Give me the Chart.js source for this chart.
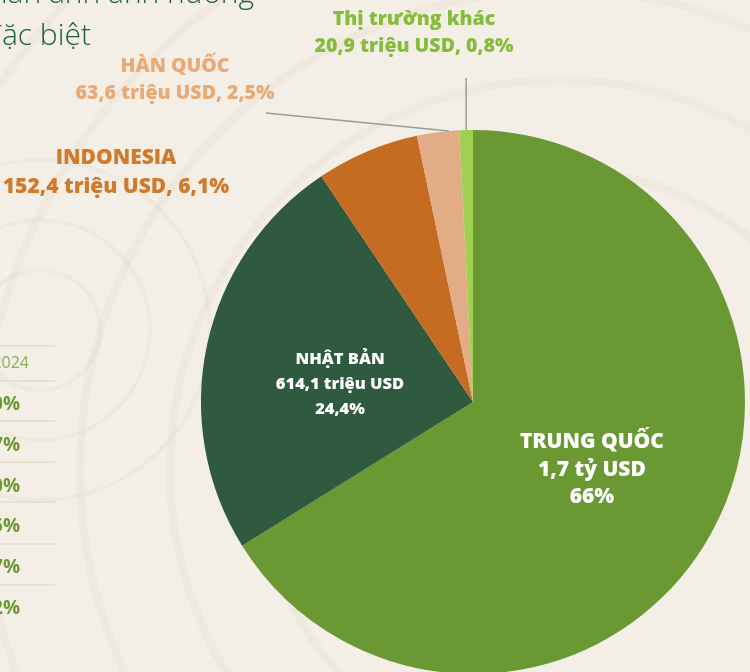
<!DOCTYPE html>
<html lang="vi">
<head>
<meta charset="UTF-8">
<title>Thị trường xuất khẩu</title>
<script src="https://cdn.jsdelivr.net/npm/chart.js"></script>
<style>
  html, body { margin: 0; padding: 0; overflow: hidden; background: #f4efe6; }
  #wrap { position: relative; width: 750px; height: 690px; }
</style>
</head>
<body>
<div id="wrap"><canvas id="pie"></canvas></div>
<script>
// data
const markets = ['TRUNG QUỐC', 'NHẬT BẢN', 'INDONESIA', 'HÀN QUỐC', 'Thị trường khác'];
const shares = [66, 24.4, 6.1, 2.5, 0.8];
const amounts = ['1,7 tỷ USD', '614,1 triệu USD', '152,4 triệu USD', '63,6 triệu USD', '20,9 triệu USD'];
const shareText = ['66%', '24,4%', '6,1%', '2,5%', '0,8%'];
const colors = ['#6a9832', '#2f5a40', '#c56c22', '#e2ac86', '#a0d052'];

// partial side table (cut at left edge)
const tableHead = '2024';
const tablePct = ['0%', '7%', '0%', '5%', '7%', '2%'];

const FONT = '"Open Sans", "Noto Sans", sans-serif';

const decor = {
  id: 'decor',
  beforeDraw(chart) {
    const ctx = chart.ctx;
    ctx.save();
    ctx.fillStyle = '#f4efe6';
    ctx.fillRect(0, 0, chart.width, chart.height);
    // faint wood rings
    ctx.strokeStyle = 'rgba(200,185,160,0.11)';
    ctx.lineWidth = 8;
    [300, 390, 480, 580, 680].forEach(r => {
      ctx.beginPath();
      ctx.arc(560, 470, r, 0, Math.PI * 2);
      ctx.stroke();
    });
    ctx.lineWidth = 4;
    [60, 110, 170].forEach(r => {
      ctx.beginPath();
      ctx.arc(40, 330, r, 0, Math.PI * 2);
      ctx.stroke();
    });

    // heading fragment
    ctx.fillStyle = '#1f5d46';
    ctx.font = '300 30px ' + FONT;
    ctx.textAlign = 'right';
    ctx.textBaseline = 'alphabetic';
    ctx.fillText('phản ánh ảnh hưởng', 254, 3);
    ctx.fillText('đặc biệt', 91, 45);

    // table fragment
    ctx.strokeStyle = '#e4dccb';
    ctx.lineWidth = 1.5;
    [346, 381, 421, 462, 502, 544, 585].forEach(y => {
      ctx.beginPath(); ctx.moveTo(0, y); ctx.lineTo(55, y); ctx.stroke();
    });
    ctx.fillStyle = '#8aae5a';
    ctx.font = '16px ' + FONT;
    ctx.fillText(tableHead, 29, 368);
    ctx.fillStyle = '#6a9832';
    ctx.font = 'bold 19px ' + FONT;
    tablePct.forEach((t, i) => ctx.fillText(t, 20, 410 + i * 40.8));
    ctx.restore();
  },
  afterDraw(chart) {
    const ctx = chart.ctx;
    const arcs = chart.getDatasetMeta(0).data;
    ctx.save();
    ctx.textAlign = 'center';
    ctx.textBaseline = 'middle';

    // inside labels
    const inside = [
      { i: 0, size: 21, gap: 27.5, dy: 2 },
      { i: 1, size: 16.5, gap: 25, dy: 11 }
    ];
    inside.forEach(o => {
      const a = arcs[o.i];
      const p = a.getCenterPoint();
      const lines = [markets[o.i], amounts[o.i], shareText[o.i]];
      ctx.fillStyle = '#ffffff';
      ctx.font = '800 ' + o.size + 'px ' + FONT;
      lines.forEach((t, k) => ctx.fillText(t, p.x, p.y + o.dy + (k - 1) * o.gap));
    });

    // leader lines
    ctx.strokeStyle = '#979b9a';
    ctx.lineWidth = 1.5;
    const a3 = arcs[3], a4 = arcs[4];
    const m3 = (a3.startAngle + a3.endAngle) / 2 + 0.04;
    ctx.beginPath();
    ctx.moveTo(a3.x + Math.cos(m3) * a3.outerRadius, a3.y + Math.sin(m3) * a3.outerRadius);
    ctx.lineTo(266, 113);
    ctx.stroke();
    const m4 = (a4.startAngle + a4.endAngle) / 2;
    const x4 = a4.x + Math.cos(m4) * a4.outerRadius;
    ctx.beginPath();
    ctx.moveTo(x4, a4.y + Math.sin(m4) * a4.outerRadius);
    ctx.lineTo(x4, 78);
    ctx.stroke();

    // outside labels
    const outside = [
      { i: 2, x: 116, y: 158, gap: 29, size: 21, color: '#d07a2c' },
      { i: 3, x: 175, y: 66, gap: 27, size: 19.5, color: '#e8aa76' },
      { i: 4, x: 414, y: 19, gap: 27, size: 19.5, color: '#86bb3c' }
    ];
    outside.forEach(o => {
      ctx.fillStyle = o.color;
      ctx.font = '800 ' + o.size + 'px ' + FONT;
      ctx.fillText(markets[o.i], o.x, o.y);
      ctx.fillText(amounts[o.i] + ', ' + shareText[o.i], o.x, o.y + o.gap);
    });
    ctx.restore();
  }
};

new Chart(document.getElementById('pie').getContext('2d'), {
  type: 'pie',
  data: {
    labels: markets,
    datasets: [{
      data: shares,
      backgroundColor: colors,
      borderWidth: 0
    }]
  },
  options: {
    responsive: true,
    maintainAspectRatio: false,
    animation: false,
    layout: { padding: { left: 201, right: 5, top: 130, bottom: 16 } },
    plugins: {
      legend: { display: false },
      tooltip: { enabled: false }
    }
  },
  plugins: [decor]
});
</script>
</body>
</html>
